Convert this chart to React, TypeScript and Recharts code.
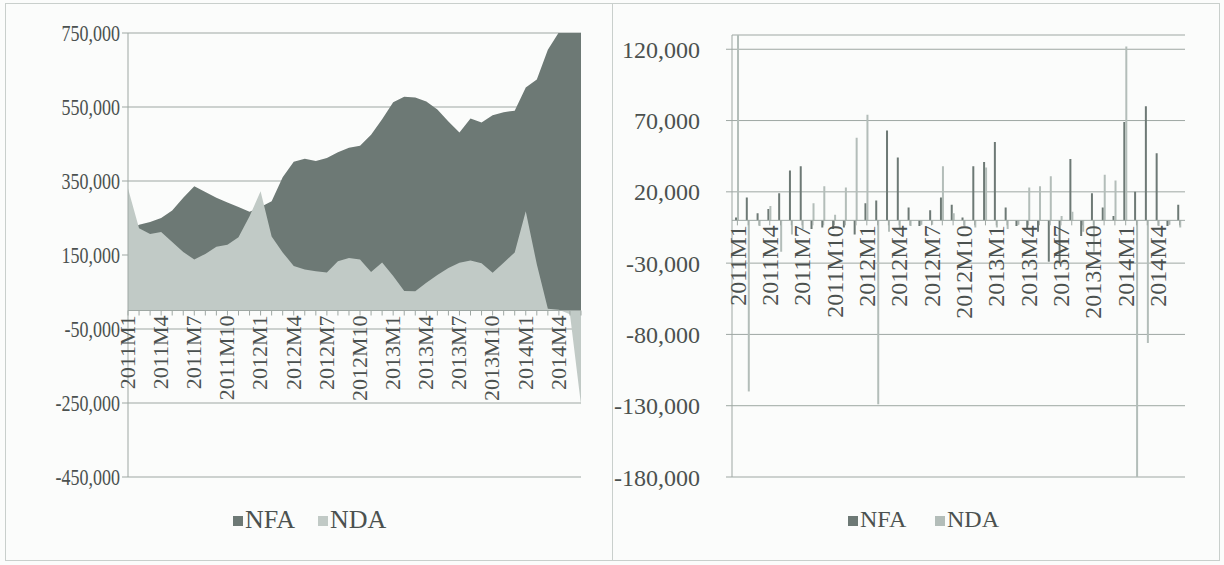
import React from "react";
import {
  AreaChart,
  Area,
  BarChart,
  Bar,
  XAxis,
  YAxis,
  CartesianGrid,
  ReferenceLine,
} from "recharts";

// months 2011M1 .. 2014M6
const months = [
  "2011M1", "2011M2", "2011M3", "2011M4", "2011M5", "2011M6",
  "2011M7", "2011M8", "2011M9", "2011M10", "2011M11", "2011M12",
  "2012M1", "2012M2", "2012M3", "2012M4", "2012M5", "2012M6",
  "2012M7", "2012M8", "2012M9", "2012M10", "2012M11", "2012M12",
  "2013M1", "2013M2", "2013M3", "2013M4", "2013M5", "2013M6",
  "2013M7", "2013M8", "2013M9", "2013M10", "2013M11", "2013M12",
  "2014M1", "2014M2", "2014M3", "2014M4", "2014M5", "2014M6",
];

// stock levels (left panel)
const nfaLevel = [
  215000, 232000, 239000, 250000, 270000, 305000,
  336000, 320000, 305000, 292000, 280000, 267000,
  280000, 295000, 360000, 402000, 410000, 404000,
  412000, 428000, 440000, 445000, 475000, 517000,
  563000, 578000, 576000, 565000, 543000, 511000,
  481000, 519000, 508000, 528000, 536000, 540000,
  603000, 624000, 705000, 752000, 768000, 780000,
];
const ndaLevel = [
  330000, 222000, 207000, 212000, 185000, 158000,
  138000, 153000, 172000, 178000, 198000, 255000,
  322000, 200000, 157000, 120000, 111000, 106000,
  103000, 133000, 142000, 138000, 104000, 130000,
  93000, 53000, 52000, 75000, 96000, 115000,
  129000, 135000, 128000, 102000, 129000, 157000,
  268000, 125000, 5000, 2000, -10000, -255000,
];

// monthly changes (right panel)
const nfaChange = [
  2000, 16000, 5000, 8000, 19000, 35000,
  38000, -6000, -5000, -6000, -5000, -10000,
  12000, 14000, 63000, 44000, 9000, -4000,
  7000, 16000, 11000, 2000, 38000, 41000,
  55000, 9000, -4000, -6000, -8000, -29000,
  -30000, 43000, -11000, 19000, 9000, 3000,
  69000, 20000, 80000, 47000, -4000, 11000,
];
const ndaChange = [
  132000, -120000, -4000, 10000, -22000, -10000,
  -6000, 12000, 24000, 4000, 23000, 58000,
  74000, -129000, -8000, -6000, -4000, -3000,
  -3000, 38000, 5000, -4000, -5000, 37000,
  -5000, -6000, -3000, 23000, 24000, 31000,
  3000, 6000, -8000, -22000, 32000, 28000,
  122000, -185000, -86000, -4000, -3000, -5000,
];

const levelTicks = [-450000, -250000, -50000, 150000, 350000, 550000, 750000];
const changeTicks = [-180000, -130000, -80000, -30000, 20000, 70000, 120000];

const levelData = months.map((m, i) => ({ month: m, nfa: nfaLevel[i], nda: ndaLevel[i] }));
const changeData = months.map((m, i) => ({ month: m, nfa: nfaChange[i], nda: ndaChange[i] }));

const FONT = '"Liberation Serif", "Times New Roman", serif';
const TEXT = "#4b514f";
const GRID = "#9ea7a3";
const DARK = "#6d7975";
const LIGHT = "#c1cac6";
const LIGHT_BAR = "#b3bdb9";

const W = 612;
const H = 565;

const fmt = (v: number) => v.toLocaleString("en-US");

// the left panel of the scan is squeezed sideways, so its text is stretched in y
function makeYTick(size: number, stretch: number) {
  return function YTick(props: any) {
    const { x, y, payload } = props;
    return (
      <text
        transform={`translate(${x},${y}) scale(1,${stretch})`}
        textAnchor="end"
        dy="0.36em"
        fontSize={size}
        fontFamily={FONT}
        fill={TEXT}
      >
        {fmt(payload.value)}
      </text>
    );
  };
}

// category labels hang under the zero line, not the bottom of the plot
function makeXTick(plotH: number, min: number, max: number, size: number, stretch: number) {
  const lift = (plotH * -min) / (max - min);
  const half = size * 0.34;
  return function XTick(props: any) {
    const { x, y, payload, index } = props;
    const y0 = y - lift;
    return (
      <g>
        <line x1={x} x2={x} y1={y0} y2={y0 + 5} stroke={GRID} />
        {index % 3 === 0 && (
          <text
            transform={`translate(${x + half},${y0 + 5}) scale(1,${stretch}) rotate(-90)`}
            textAnchor="end"
            fontSize={size}
            fontFamily={FONT}
            fill={TEXT}
          >
            {payload.value}
          </text>
        )}
      </g>
    );
  };
}

function LegendItem({ x, color, label, size }: { x: number; color: string; label: string; size: number }) {
  return (
    <>
      <div style={{ position: "absolute", left: x, top: 516, width: 10, height: 10, background: color }} />
      <div
        style={{
          position: "absolute",
          left: x + 12,
          top: 521 - size * 0.62,
          fontFamily: FONT,
          fontSize: size,
          lineHeight: `${size * 1.15}px`,
          color: TEXT,
          whiteSpace: "nowrap",
        }}
      >
        {label}
      </div>
    </>
  );
}

const leftMargin = { top: 33, right: 31, bottom: 87, left: 68 };
const rightMargin = { top: 35, right: 39, bottom: 87, left: 60 };
const leftPlotH = H - leftMargin.top - leftMargin.bottom - 1;
const rightPlotH = H - rightMargin.top - rightMargin.bottom - 1;
const LeftXTick = makeXTick(leftPlotH, -450000, 750000, 20, 1.1);
const RightXTick = makeXTick(rightPlotH, -180000, 130000, 24, 1);
const LeftYTick = makeYTick(18, 1.3);
const RightYTick = makeYTick(24, 1);

export default function App() {
  return (
    <div
      style={{
        position: "absolute",
        left: 0,
        top: 0,
        width: 1224,
        height: 565,
        background: "#fbfcfb",
        overflow: "hidden",
      }}
    >
      <div style={{ position: "absolute", left: 5, top: 3, width: 606, height: 556, border: "1px solid #c9cfcc" }} />
      <div style={{ position: "absolute", left: 612, top: 3, width: 606, height: 556, border: "1px solid #c9cfcc" }} />

      <div style={{ position: "absolute", left: 0, top: 0 }}>
        <AreaChart width={W} height={H} data={levelData} margin={leftMargin}>
          <CartesianGrid vertical={false} stroke={GRID} />
          <XAxis
            dataKey="month"
            height={1}
            interval={0}
            axisLine={false}
            tickLine={false}
            tickSize={0}
            tickMargin={0}
            tick={<LeftXTick />}
          />
          <YAxis
            width={60}
            domain={[-450000, 750000]}
            ticks={levelTicks}
            allowDataOverflow
            axisLine={{ stroke: GRID }}
            tickLine={{ stroke: GRID }}
            tickSize={6}
            tickMargin={2}
            tick={<LeftYTick />}
          />
          <Area type="linear" dataKey="nfa" stroke="none" fill={DARK} fillOpacity={1} isAnimationActive={false} activeDot={false} />
          <Area type="linear" dataKey="nda" stroke="none" fill={LIGHT} fillOpacity={1} isAnimationActive={false} activeDot={false} />
          <ReferenceLine y={0} stroke={GRID} />
        </AreaChart>
      </div>
      <LegendItem x={233} color={DARK} label="NFA" size={26} />
      <LegendItem x={318} color={LIGHT} label="NDA" size={26} />

      <div style={{ position: "absolute", left: 612, top: 0 }}>
        <BarChart width={W} height={H} data={changeData} margin={rightMargin} barCategoryGap="28%" barGap={0}>
          <CartesianGrid vertical={false} stroke={GRID} />
          <XAxis
            dataKey="month"
            height={1}
            interval={0}
            axisLine={false}
            tickLine={false}
            tickSize={0}
            tickMargin={0}
            tick={<RightXTick />}
          />
          <YAxis
            width={60}
            domain={[-180000, 130000]}
            ticks={changeTicks}
            allowDataOverflow
            axisLine={{ stroke: GRID }}
            tickLine={{ stroke: GRID }}
            tickSize={6}
            tickMargin={26}
            tick={<RightYTick />}
          />
          <Bar dataKey="nfa" fill={DARK} isAnimationActive={false} />
          <Bar dataKey="nda" fill={LIGHT_BAR} isAnimationActive={false} />
          <ReferenceLine y={0} stroke={GRID} />
        </BarChart>
      </div>
      <LegendItem x={848} color={DARK} label="NFA" size={24} />
      <LegendItem x={935} color={LIGHT_BAR} label="NDA" size={24} />
    </div>
  );
}
